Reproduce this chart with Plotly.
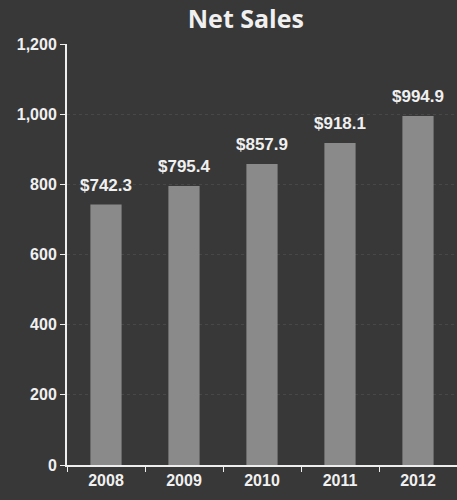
import plotly.graph_objects as go

years = ["2008", "2009", "2010", "2011", "2012"]
net_sales = [742.3, 795.4, 857.9, 918.1, 994.9]
labels = ["$742.3", "$795.4", "$857.9", "$918.1", "$994.9"]
y_ticks = [0, 200, 400, 600, 800, 1000, 1200]
y_tick_text = ["0", "200", "400", "600", "800", "1,000", "1,200"]

bg = "#383838"
fig = go.Figure()
fig.add_trace(go.Bar(
    x=years, y=net_sales, marker=dict(color="#8a8a8a", line=dict(width=0)),
    width=0.4, hoverinfo="skip"))

for i, (y, t) in enumerate(zip(net_sales, labels)):
    fig.add_annotation(x=i, y=y, text="<b>" + t + "</b>", showarrow=False, yanchor="bottom",
                       yshift=8, font=dict(family="Liberation Sans, Arial", size=17, color="#f0f0f0"))

fig.update_layout(
    width=457, height=500,
    margin=dict(l=67, r=0, t=44, b=35),
    paper_bgcolor=bg, plot_bgcolor=bg,
    showlegend=False,
    title=dict(text="<b>Net Sales</b>", x=0.538, xanchor="center", y=0.962, yanchor="middle",
               font=dict(family="Open Sans", size=25, color="#f0f0f0")),
    font=dict(family="Liberation Sans, Arial", color="#f0f0f0"),
)
fig.update_xaxes(
    type="category", range=[-0.5, 4.5], showline=True, linecolor="#eeeeee", linewidth=2,
    ticks="outside", tickson="boundaries", ticklen=5, tickcolor="#eeeeee", tickwidth=1,
    tickfont=dict(family="Liberation Sans, Arial", size=16, color="#f0f0f0"),
    tickprefix="<b>", ticksuffix="</b>",
    showgrid=False, fixedrange=True,
)
fig.update_yaxes(
    range=[0, 1200], tickvals=y_ticks, ticktext=["<b>" + s + "</b>" for s in y_tick_text],
    showline=True, linecolor="#eeeeee", linewidth=2,
    ticks="outside", ticklen=5, tickcolor="#eeeeee", tickwidth=1,
    tickfont=dict(family="Liberation Sans, Arial", size=16, color="#f0f0f0"),
    showgrid=True, gridcolor="#484848", griddash="dot", gridwidth=1,
    zeroline=False, fixedrange=True,
)
fig.write_html("out.html", config={"displayModeBar": False},
               post_script="document.body.style.margin='0';document.body.style.background='#383838';")
